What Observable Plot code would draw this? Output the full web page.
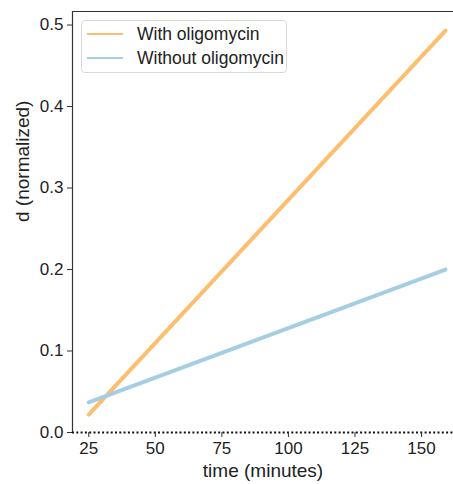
<!DOCTYPE html>
<html>
<head>
<meta charset="utf-8">
<script src="https://cdn.jsdelivr.net/npm/d3@7"></script>
<script src="https://cdn.jsdelivr.net/npm/@observablehq/plot@0.6"></script>
<style>
  body { margin: 0; background: #fff; }
  #wrap { position: relative; width: 453px; height: 484px; font-family: "Liberation Sans", Arial, sans-serif; }
  #legend { position: absolute; left: 81px; top: 20px; width: 206px; height: 53px; border: 1px solid #d9d9d9; border-radius: 4px; background: rgba(255,255,255,0.85); box-sizing: border-box; }
  .item { position: absolute; left: 5px; height: 22px; display: flex; align-items: center; font-size: 17.5px; color: #222; }
  .swatch { width: 36px; height: 0; border-top: 2px solid; margin-right: 14px; }
</style>
</head>
<body>
<div id="wrap"></div>
<script>
const seriesNames = ["With oligomycin", "Without oligomycin"];
const seriesColors = ["#fdbf6f", "#a6cee3"];
const timeMinutes = [25, 159];
const withOligomycin = [0.022, 0.493];
const withoutOligomycin = [0.037, 0.200];
const xTicks = [25, 50, 75, 100, 125, 150];
const yTicks = [0.0, 0.1, 0.2, 0.3, 0.4, 0.5];

const rows = [];
timeMinutes.forEach((t, i) => {
  rows.push({time: t, d: withOligomycin[i], series: seriesNames[0]});
  rows.push({time: t, d: withoutOligomycin[i], series: seriesNames[1]});
});

const chart = Plot.plot({
  width: 453,
  height: 484,
  marginLeft: 72,
  marginTop: 11,
  marginBottom: 52,
  marginRight: 0,
  style: {fontFamily: "Liberation Sans, Arial, sans-serif", fontSize: "17px", color: "#222", background: "#fff"},
  x: {domain: [18.9, 162], ticks: xTicks},
  y: {domain: [0, 0.5166], ticks: yTicks},
  color: {domain: seriesNames, range: seriesColors},
  marks: [
    Plot.line(rows, {x: "time", y: "d", z: "series", stroke: "series", strokeWidth: 4, strokeLinecap: "round"}),
    Plot.ruleY([0], {stroke: "#111", strokeWidth: 2, strokeDasharray: "2,2.3"}),
    Plot.ruleX([18.9], {stroke: "#333", strokeWidth: 1.2}),
    Plot.ruleY([0.5166], {stroke: "#333", strokeWidth: 1.2}),
    Plot.axisX({ticks: xTicks, tickSize: 5, tickPadding: 4, fontSize: 17, label: null, stroke: "#333"}),
    Plot.axisY({ticks: yTicks, tickSize: 5, tickPadding: 4, fontSize: 17, tickFormat: d3.format(".1f"), label: null, stroke: "#333"}),
    Plot.text(["time (minutes)"], {frameAnchor: "bottom", lineAnchor: "middle", dy: 38, fontSize: 19, fill: "#222"}),
    Plot.text(["d (normalized)"], {frameAnchor: "left", dx: -50, rotate: -90, fontSize: 19, fill: "#222"})
  ]
});

const wrap = document.getElementById("wrap");
wrap.appendChild(chart);

const legend = document.createElement("div");
legend.id = "legend";
seriesNames.forEach((name, i) => {
  const it = document.createElement("div");
  it.className = "item";
  it.style.top = (i === 0 ? 2 : 26) + "px";
  const sw = document.createElement("div");
  sw.className = "swatch";
  sw.style.borderTopColor = seriesColors[i];
  const tx = document.createElement("span");
  tx.textContent = name;
  it.appendChild(sw);
  it.appendChild(tx);
  legend.appendChild(it);
});
wrap.appendChild(legend);
</script>
</body>
</html>
